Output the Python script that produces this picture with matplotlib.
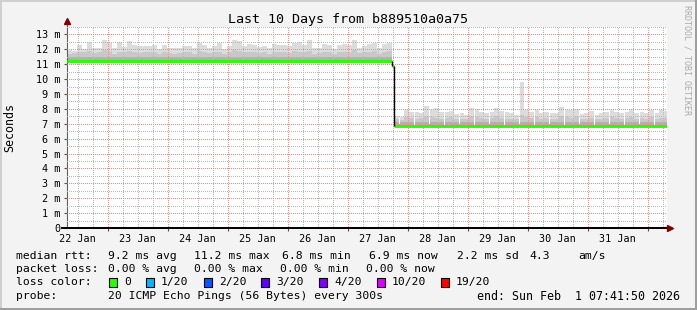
import datetime as dt
import matplotlib
matplotlib.use('Agg')
import matplotlib.pyplot as plt
import matplotlib.dates as mdates
from matplotlib.patches import Rectangle
from matplotlib.ticker import MultipleLocator, FuncFormatter

W, H = 697, 310
MONO = 'DejaVu Sans Mono'

# time window of the graph
start = dt.datetime(2026, 1, 22, 7, 41, 50)
end = start + dt.timedelta(days=10)
bin_hours = 2

# smoke (ms), one value per 2 hour bin
smoke_top_before = [11.95, 11.9, 12.3, 12.0, 12.5, 12.1, 12.1, 12.6, 12.4, 12.1, 12.5,
                    12.15, 12.55, 12.3, 12.2, 12.25, 12.25, 12.3, 12.0, 12.3, 12.1, 12.1,
                    12.1, 12.25, 12.2, 12.1, 12.4, 12.3, 12.1, 12.2, 12.4, 12.0, 12.2,
                    12.6, 12.55, 12.2, 12.35, 12.3, 12.15, 12.2, 12.1, 12.35, 12.3, 12.3,
                    12.2, 12.45, 12.5, 12.3, 12.6, 12.1, 12.1, 12.35, 12.3, 12.0, 12.3,
                    12.35, 12.3, 12.65, 12.1, 12.2, 12.35, 12.4, 12.1, 12.35, 12.45]
smoke_mid_before = [11.7, 11.75, 11.85, 11.8, 11.9, 11.75, 11.8, 11.95, 11.9, 11.7, 11.85,
                    11.8, 11.9, 11.85, 11.75, 11.8, 11.85, 11.8, 11.7, 11.85, 11.75, 11.7,
                    11.75, 11.8, 11.85, 11.7, 11.9, 11.8, 11.75, 11.8, 11.85, 11.7, 11.8,
                    11.95, 11.9, 11.8, 11.85, 11.8, 11.75, 11.8, 11.7, 11.85, 11.8, 11.8,
                    11.75, 11.9, 11.85, 11.8, 11.9, 11.7, 11.75, 11.8, 11.85, 11.7, 11.8,
                    11.85, 11.8, 11.95, 11.75, 11.8, 11.85, 11.9, 11.7, 11.8, 11.9]
smoke_top_after = [7.5, 7.45, 7.95, 7.8, 7.8, 7.75, 8.2, 7.95, 8.05, 7.8, 7.8, 7.85, 7.65,
                   7.7, 7.6, 8.05, 8.0, 7.8, 7.75, 7.8, 8.05, 7.85, 7.8, 7.7, 7.6, 9.8, 7.95,
                   7.8, 7.9, 7.75, 7.8, 7.7, 7.7, 8.1, 7.9, 7.95, 8.0, 7.65, 7.7, 7.85, 7.6,
                   7.75, 7.8, 7.95, 7.8, 7.7, 7.8, 7.9, 7.75, 7.8, 7.7, 7.95, 7.7, 7.9, 7.85]
smoke_mid_after = [7.3, 7.25, 7.45, 7.4, 7.35, 7.4, 7.5, 7.45, 7.4, 7.35, 7.4, 7.45, 7.3,
                   7.35, 7.3, 7.5, 7.45, 7.4, 7.35, 7.4, 7.5, 7.4, 7.35, 7.3, 7.3, 7.6, 7.45,
                   7.4, 7.45, 7.35, 7.4, 7.3, 7.35, 7.5, 7.45, 7.4, 7.5, 7.3, 7.35, 7.4, 7.3,
                   7.35, 7.4, 7.45, 7.4, 7.35, 7.4, 7.45, 7.35, 7.4, 7.3, 7.45, 7.35, 7.4, 7.4]
dark_before = 11.5
dark_after = 7.15
after_start_h = 131

# median rtt: hour boundaries and level between them
median_hours = [0, 130, 131, 240]
median_ms = [11.2, 10.87, 6.88]
loss_hours = [151.6, 169.6, 176.8, 207.6]

day_labels = ['22 Jan', '23 Jan', '24 Jan', '25 Jan', '26 Jan', '27 Jan',
              '28 Jan', '29 Jan', '30 Jan', '31 Jan']

rtt_parts = ['median rtt:', '9.2 ms avg', '11.2 ms max', '6.8 ms min', '6.9 ms now',
             '2.2 ms sd', '4.3', 'am/s']
rtt_x = [16, 107.6, 194, 281.7, 369, 457, 529, 578]
loss_parts = ['packet loss:', '0.00 % avg', '0.00 % max', '0.00 % min', '0.00 % now']
loss_x = [16, 107.6, 194, 280, 366]
loss_labels = ['0', '1/20', '2/20', '3/20', '4/20', '10/20', '19/20']
loss_colors = ['#26ff00', '#00b8ff', '#0059ff', '#5e00ff', '#7e00ff', '#dd00ff', '#ff0000']
probe_parts = ['probe:', '20 ICMP Echo Pings (56 Bytes) every 300s']
probe_x = [16, 107.6]
end_text = 'end: Sun Feb  1 07:41:50 2026'


def hours(h):
    return mdates.date2num(start + dt.timedelta(hours=h))


fig = plt.figure(figsize=(W / 100, H / 100), dpi=100, facecolor='#f3f3f3')
ax = fig.add_axes([67 / W, 82 / H, 600 / W, 201 / H])
ax.set_facecolor('white')

bw = bin_hours / 24.0
# smoke before the step
xb = [hours(i * bin_hours) for i in range(len(smoke_top_before))]
base = median_ms[0]
ax.bar(xb, [t - base for t in smoke_top_before], bottom=base, width=bw, align='edge',
       color='#dcdcdc', linewidth=0, zorder=1)
ax.bar(xb, [m - base for m in smoke_mid_before], bottom=base, width=bw, align='edge',
       color='#c8c8c8', linewidth=0, zorder=1)
ax.bar(xb, [dark_before - base] * len(xb), bottom=base, width=bw, align='edge',
       color='#b0b0b0', linewidth=0, zorder=1)

# smoke after the step
xa = [hours(after_start_h + i * bin_hours) for i in range(len(smoke_top_after))]
base = median_ms[2]
ax.bar(xa, [t - base for t in smoke_top_after], bottom=base, width=bw, align='edge',
       color='#dcdcdc', linewidth=0, zorder=1)
ax.bar(xa, [m - base for m in smoke_mid_after], bottom=base, width=bw, align='edge',
       color='#c8c8c8', linewidth=0, zorder=1)
ax.bar(xa, [dark_after - base] * len(xa), bottom=base, width=bw, align='edge',
       color='#b0b0b0', linewidth=0, zorder=1)

# median line
for i, v in enumerate(median_ms):
    ax.hlines(v, hours(median_hours[i]), hours(median_hours[i + 1]), color='#26ff00',
              linewidth=2.1, zorder=4)
for i in range(1, len(median_ms)):
    ax.vlines(hours(median_hours[i]), median_ms[i], median_ms[i - 1], color='black',
              linewidth=1.0, zorder=5)
for h in loss_hours:
    ax.hlines(median_ms[2] - 0.05, hours(h), hours(h + 0.6), color='#dd77dd',
              linewidth=1.2, zorder=5)

ax.set_xlim(mdates.date2num(start), mdates.date2num(end))
ax.set_ylim(0, 13.5)

# grid
ax.xaxis.set_major_locator(mdates.DayLocator())
ax.xaxis.set_minor_locator(mdates.HourLocator(byhour=[6, 12, 18]))
ax.xaxis.set_major_formatter(FuncFormatter(lambda v, p: ''))
ax.yaxis.set_major_locator(MultipleLocator(1))
ax.yaxis.set_minor_locator(MultipleLocator(0.5))
ax.yaxis.set_major_formatter(FuncFormatter(lambda v, p: '0' if v == 0 else '%d m' % v))
ax.grid(which='major', color='#f08c8c', linestyle=':', linewidth=0.72, antialiased=False)
ax.grid(which='minor', color='#b8b8b8', linestyle=':', linewidth=0.72, antialiased=False)
ax.set_axisbelow(False)
ax.tick_params(which='minor', length=0)
ax.tick_params(axis='y', which='major', length=2, color='#555555', pad=3,
               labelsize=7.3, labelfontfamily=MONO)
ax.tick_params(axis='x', which='major', length=2, color='#555555')

for s in ['top', 'right']:
    ax.spines[s].set_visible(False)
ax.spines['left'].set_color('#606060')
ax.spines['bottom'].set_color('black')
ax.spines['bottom'].set_linewidth(1.4)
ax.spines['bottom'].set_zorder(6)

# day labels centred at noon
for d, lab in enumerate(day_labels):
    noon = dt.datetime(2026, 1, 22 + d, 12, 0)
    ax.annotate(lab, xy=(mdates.date2num(noon), 0), xycoords=('data', 'axes fraction'),
                xytext=(0, -7.6), textcoords='offset points', ha='center', va='center',
                fontsize=7.3, family=MONO)

# axis arrows and extensions
ax.plot([0, 0], [1, 1 + 5 / 201], color='#606060', lw=0.8, transform=ax.transAxes, clip_on=False)
ax.plot(0, 1 + 6 / 201, marker='^', markersize=4.5, color='#800000', transform=ax.transAxes,
        clip_on=False)
ax.plot([-5 / 600, 1 + 3 / 600], [0, 0], color='black', lw=1.4, transform=ax.transAxes,
        clip_on=False, zorder=6)
ax.plot(1 + 3 / 600, 0, marker='>', markersize=4.5, color='#800000', transform=ax.transAxes,
        clip_on=False, zorder=7)

# titles
fig.text(348 / W, 1 - 19 / H, 'Last 10 Days from b889510a0a75', ha='center', va='center',
         fontsize=9.6, family=MONO)
fig.text(10 / W, 1 - 128 / H, 'Seconds', rotation=90, ha='center', va='center',
         fontsize=8.4, family=MONO)
fig.text(687 / W, 1 - 5 / H, 'RRDTOOL / TOBI OETIKER', rotation=270, ha='center', va='top',
         fontsize=6, family=MONO, color='#aaaaaa')

# legend block
rows_y = [256, 269, 282, 296]
LFS = 8.2
for x, txt in zip(rtt_x, rtt_parts):
    fig.text(x / W, 1 - rows_y[0] / H, txt, ha='left', va='center', fontsize=LFS, family=MONO)
for x, txt in zip(loss_x, loss_parts):
    fig.text(x / W, 1 - rows_y[1] / H, txt, ha='left', va='center', fontsize=LFS, family=MONO)
fig.text(16 / W, 1 - rows_y[2] / H, 'loss color:', ha='left', va='center', fontsize=LFS,
         family=MONO)
box_x = [109, 146, 204, 261, 319, 377, 441]
for bx, lab, col in zip(box_x, loss_labels, loss_colors):
    fig.patches.append(Rectangle((bx / W, 1 - (rows_y[2] + 4.5) / H), 8 / W, 9 / H,
                                 transform=fig.transFigure, facecolor=col,
                                 edgecolor='black', linewidth=0.8))
    fig.text((bx + 15) / W, 1 - rows_y[2] / H, lab, ha='left', va='center', fontsize=LFS,
             family=MONO)
for x, txt in zip(probe_x, probe_parts):
    fig.text(x / W, 1 - rows_y[3] / H, txt, ha='left', va='center', fontsize=LFS, family=MONO)
fig.text(680 / W, 1 - rows_y[3] / H, end_text, ha='right', va='center', fontsize=8.4,
         family=MONO)

# frame shading
fig.patches.append(Rectangle((0, 0), 2 / W, 1, transform=fig.transFigure, color='#cfcfcf', lw=0))
fig.patches.append(Rectangle((0, 1 - 2 / H), 1, 2 / H, transform=fig.transFigure, color='#cfcfcf', lw=0))
fig.patches.append(Rectangle((1 - 2 / W, 0), 2 / W, 1, transform=fig.transFigure, color='#9e9e9e', lw=0))
fig.patches.append(Rectangle((0, 0), 1, 2 / H, transform=fig.transFigure, color='#9e9e9e', lw=0))

fig.savefig('out.png', dpi=100, facecolor=fig.get_facecolor())
